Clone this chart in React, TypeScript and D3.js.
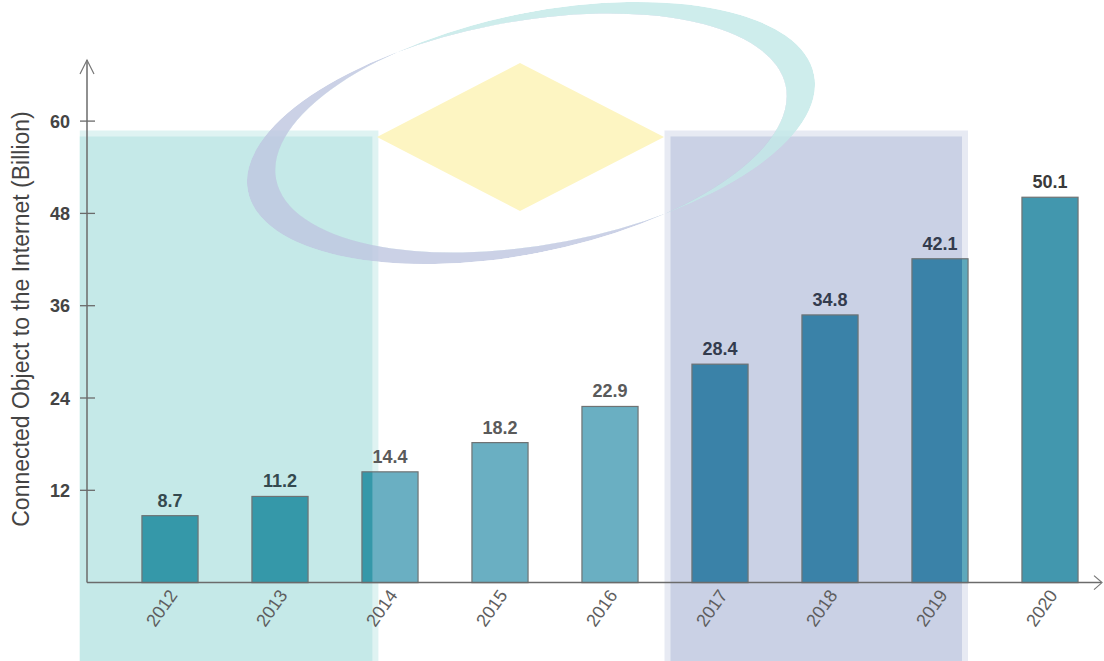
import React from 'react';
import * as d3 from 'd3';

// ---------- data ----------
const years = ['2012', '2013', '2014', '2015', '2016', '2017', '2018', '2019', '2020'];
const values = [8.7, 11.2, 14.4, 18.2, 22.9, 28.4, 34.8, 42.1, 50.1];
const yTicks = [12, 24, 36, 48, 60];
const yTitle = 'Connected Object to the Internet (Billion)';
// shaded periods, in category-index units (start, end)
const tealPeriod = [-0.82, 1.84];
const purplePeriod = [4.55, 7.2];
const shadeTopValue = 58;

// ---------- layout / style ----------
const W = 1104;
const H = 661;
const FONT = '"Liberation Sans", Arial, Helvetica, sans-serif';
const axisX = 87;

const barFill = (i: number) => (i === 8 ? '#4297ae' : i >= 5 ? '#5da8bc' : '#6aafc2');
const TEAL_INSIDE = '#3598a9';
const PURPLE_INSIDE = '#3a82a8';

function ellipsePath(cx: number, cy: number, rx: number, ry: number) {
  return `M${cx - rx},${cy}A${rx},${ry} 0 1,0 ${cx + rx},${cy}A${rx},${ry} 0 1,0 ${cx - rx},${cy}Z`;
}

export default function App() {
  const y = d3.scaleLinear().domain([0, 60]).range([582.6, 121.1]);
  const x = d3
    .scaleBand<string>()
    .domain(years)
    .range([115, 1105])
    .paddingInner(0.49)
    .paddingOuter(0.245);
  const bw = x.bandwidth();
  const idx = d3.scaleLinear().domain([0, 8]).range([x(years[0])! + bw / 2, x(years[8])! + bw / 2]);
  const y0 = y(0);
  const shadeTop = y(shadeTopValue);

  const tealX0 = idx(tealPeriod[0]);
  const tealX1 = idx(tealPeriod[1]);
  const purX0 = idx(purplePeriod[0]);
  const purX1 = idx(purplePeriod[1]);

  // logo ellipses (all rotated about one common centre)
  const rot = -11;
  const RC = { x: 531, y: 133 };
  const A = { cx: 546, cy: 130, rx: 274, ry: 116 };
  const B = { cx: 516, cy: 136, rx: 274, ry: 116 };
  const pathA = ellipsePath(A.cx, A.cy, A.rx, A.ry);
  const pathB = ellipsePath(B.cx, B.cy, B.rx, B.ry);
  const rotT = `rotate(${rot},${RC.x},${RC.y})`;
  const diamond = `M${520},${63}L${664},${137}L${520},${211}L${377},${137}Z`;

  const inTeal = (c: number) => c >= tealX0 && c <= tealX1;
  const inPurple = (c: number) => c >= purX0 && c <= purX1;

  return (
    <svg
      width={W}
      height={H}
      viewBox={`0 0 ${W} ${H}`}
      style={{ position: 'absolute', left: 0, top: 0, display: 'block', background: '#fff' }}
      fontFamily={FONT}
    >
      <defs>
        <clipPath id="tealClip">
          <rect x={tealX0} y={shadeTop} width={tealX1 - tealX0} height={H - shadeTop} />
        </clipPath>
        <clipPath id="purpleClip">
          <rect x={purX0} y={shadeTop} width={purX1 - purX0} height={H - shadeTop} />
        </clipPath>
        <clipPath id="clipA">
          <path d={pathA} />
        </clipPath>
        <clipPath id="clipB">
          <path d={pathB} />
        </clipPath>
      </defs>

      {/* shaded periods with soft halo */}
      <rect x={tealX0} y={shadeTop - 6} width={tealX1 - tealX0 + 6} height={H} fill="#c5e9e8" opacity={0.55} />
      <rect x={tealX0} y={shadeTop} width={tealX1 - tealX0} height={H} fill="#c5e9e8" />
      <rect x={purX0 - 6} y={shadeTop - 6} width={purX1 - purX0 + 12} height={H} fill="#cad1e5" opacity={0.45} />
      <rect x={purX0} y={shadeTop} width={purX1 - purX0} height={H} fill="#cad1e5" />

      {/* watermark logo */}
      <path d={diamond} fill="#fdf5c2" />
      <g transform={rotT}>
        <g clipPath="url(#clipA)">
          <path d={`${pathA} ${pathB}`} fillRule="evenodd" fill="#c2e8e7" opacity={0.8} />
        </g>
        <g clipPath="url(#clipB)">
          <path d={`${pathA} ${pathB}`} fillRule="evenodd" fill="#bec5e0" opacity={0.8} />
        </g>
      </g>

      {/* bars */}
      {years.map((yr, i) => {
        const bx = x(yr)!;
        const by = y(values[i]);
        const h = y0 - by;
        return (
          <g key={yr}>
            <rect x={bx} y={by} width={bw} height={h} fill={barFill(i)} />
            <rect x={bx} y={by} width={bw} height={h} fill={TEAL_INSIDE} clipPath="url(#tealClip)" />
            <rect x={bx} y={by} width={bw} height={h} fill={PURPLE_INSIDE} clipPath="url(#purpleClip)" />
            <rect x={bx} y={by} width={bw} height={h} fill="none" stroke="#6f7374" strokeWidth={1.2} />
          </g>
        );
      })}

      {/* value labels */}
      {years.map((yr, i) => {
        const c = x(yr)! + bw / 2;
        const col = inTeal(c) ? '#34494f' : inPurple(c) ? '#333b4d' : i === 8 ? '#3a3a3a' : '#5a5a5a';
        return (
          <text
            key={'v' + yr}
            x={c}
            y={y(values[i]) - 9}
            textAnchor="middle"
            fontSize={18}
            fontWeight="bold"
            fill={col}
          >
            {values[i]}
          </text>
        );
      })}

      {/* axes */}
      <line x1={axisX} y1={y0} x2={axisX} y2={60} stroke="#6b6b6b" strokeWidth={1.5} />
      <polyline points={`${axisX - 7},${74} ${axisX},${60} ${axisX + 7},${74}`} fill="none" stroke="#777" strokeWidth={1.2} />
      <line x1={axisX} y1={y0} x2={1101} y2={y0} stroke="#6b6b6b" strokeWidth={1.5} />
      <polyline points={`${1094},${y0 - 7} ${1102},${y0} ${1094},${y0 + 7}`} fill="none" stroke="#777" strokeWidth={1.2} />

      {yTicks.map((t) => (
        <g key={'t' + t}>
          <line x1={axisX - 7} x2={axisX + 8} y1={y(t)} y2={y(t)} stroke="#6b6b6b" strokeWidth={1.3} />
          <text x={70} y={y(t) + 6.5} textAnchor="end" fontSize={18} fontWeight="bold" fill="#444">
            {t}
          </text>
        </g>
      ))}

      {years.map((yr) => {
        const c = x(yr)! + bw / 2;
        return (
          <text
            key={'x' + yr}
            transform={`translate(${c + 3},${y0 + 9}) rotate(-55)`}
            textAnchor="end"
            dy="0.35em"
            fontSize={18}
            fill="#5e5e5e"
          >
            {yr}
          </text>
        );
      })}

      <text
        transform={`translate(${29},${319}) rotate(-90)`}
        textAnchor="middle"
        fontSize={23}
        fill="#444"
      >
        {yTitle}
      </text>
    </svg>
  );
}
